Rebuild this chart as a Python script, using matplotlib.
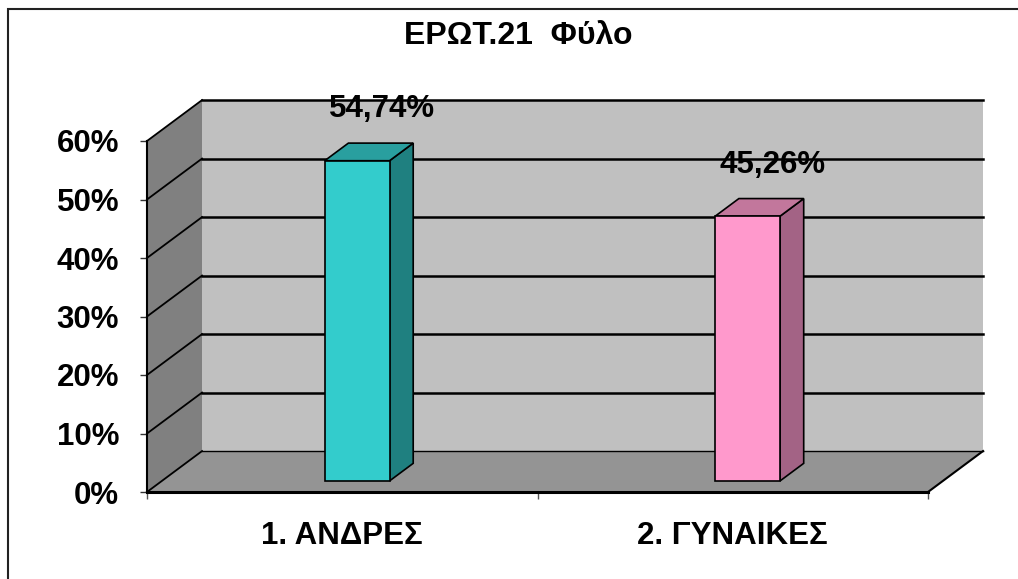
import matplotlib
matplotlib.use("Agg")
import matplotlib.pyplot as plt
from matplotlib.patches import Polygon, Rectangle

# data
katigories = ["1. ΑΝΔΡΕΣ", "2. ΓΥΝΑΙΚΕΣ"]
pososta = [54.74, 45.26]
etiketes = ["54,74%", "45,26%"]
y_ticks = [0, 10, 20, 30, 40, 50, 60]
titlos = "ΕΡΩΤ.21  Φύλο"

xromata_mprosta = ["#33CCCC", "#FF99CC"]
xromata_pano = ["#299F9F", "#C2779C"]
xromata_plai = ["#1F8080", "#A36385"]

plt.rcParams["font.family"] = ["Liberation Sans", "DejaVu Sans"]
plt.rcParams["font.weight"] = "bold"

fig = plt.figure(figsize=(10.18, 5.79), dpi=100)
W, H = 1018, 579
ax = fig.add_axes([147 / W, (H - 492) / H, (928 - 147) / W, (492 - 141) / H])
ymax = y_ticks[-1]
n = len(katigories)
ax.set_xlim(0, n)
ax.set_ylim(0, ymax)
ax.patch.set_visible(False)

# 3d depth (in data units)
DX = 0.141
DY = 7.0

# side wall, back wall, floor
ax.add_patch(Polygon([(0, 0), (DX, DY), (DX, ymax + DY), (0, ymax)],
                     closed=True, facecolor="#808080", edgecolor="none", clip_on=False, zorder=1))
ax.add_patch(Polygon([(DX, DY), (n + DX, DY), (n + DX, ymax + DY), (DX, ymax + DY)],
                     closed=True, facecolor="#C0C0C0", edgecolor="none", clip_on=False, zorder=1))
ax.add_patch(Polygon([(0, 0), (n, 0), (n + DX, DY), (DX, DY)],
                     closed=True, facecolor="#949494", edgecolor="none", clip_on=False, zorder=1))

# gridlines on back wall + diagonals on side wall
for t in y_ticks:
    if t > 0:
        ax.plot([DX, n + DX], [t + DY, t + DY], color="black", lw=1.8, clip_on=False, zorder=2)
    ax.plot([0, DX], [t, t + DY], color="black", lw=1.3, clip_on=False, zorder=2)
ax.plot([DX, n + DX], [DY, DY], color="black", lw=1.0, clip_on=False, zorder=2)
ax.plot([n, n + DX], [0, DY], color="black", lw=1.5, clip_on=False, zorder=2)

# bars
w = 0.166
f0, f1 = 0.27, 0.70
for i, v in enumerate(pososta):
    x0 = i + 0.5 + f0 * DX - w / 2
    y0 = f0 * DY
    ddx = (f1 - f0) * DX
    ddy = (f1 - f0) * DY
    front = [(x0, y0), (x0 + w, y0), (x0 + w, y0 + v), (x0, y0 + v)]
    top = [(x0, y0 + v), (x0 + w, y0 + v), (x0 + w + ddx, y0 + v + ddy), (x0 + ddx, y0 + v + ddy)]
    side = [(x0 + w, y0), (x0 + w + ddx, y0 + ddy), (x0 + w + ddx, y0 + v + ddy), (x0 + w, y0 + v)]
    for pts, c in [(side, xromata_plai[i]), (top, xromata_pano[i]), (front, xromata_mprosta[i])]:
        ax.add_patch(Polygon(pts, closed=True, facecolor=c, edgecolor="black", lw=1.2,
                             joinstyle="miter", clip_on=False, zorder=3))
    ax.annotate(etiketes[i], (x0 + ddx + w / 2, y0 + v + ddy), xytext=(1, 18.5),
                textcoords="offset points", ha="center", va="baseline",
                fontsize=22.5, fontweight="bold", annotation_clip=False, zorder=4)

# axes
for s in ["top", "right"]:
    ax.spines[s].set_visible(False)
ax.spines["left"].set_linewidth(1.5)
ax.spines["bottom"].set_linewidth(2.2)
ax.spines["left"].set_zorder(5)
ax.spines["bottom"].set_zorder(5)

ax.set_yticks(y_ticks)
ax.set_yticklabels([f"{t}%" for t in y_ticks])
ax.tick_params(axis="y", length=5, width=1, color="#333333", pad=15, labelsize=22.5)

ax.set_xticks([i + 0.5 for i in range(n)])
ax.set_xticklabels(katigories)
ax.set_xticks(list(range(n + 1)), minor=True)
ax.tick_params(axis="x", which="major", length=0, pad=21, labelsize=22.5)
ax.tick_params(axis="x", which="minor", length=5, width=1, color="#555555")
for lab in ax.get_xticklabels() + ax.get_yticklabels():
    lab.set_fontweight("bold")

fig.text(518 / W, 1 - 44 / H, titlos, ha="center", va="baseline", fontsize=23, fontweight="bold")

# outer frame
fig.patches.append(Rectangle((8 / W, -0.1), 1.2, 1 - 9 / H + 0.1, transform=fig.transFigure,
                             fill=False, edgecolor="#222222", lw=1.5))

fig.savefig("out.png", dpi=100)
